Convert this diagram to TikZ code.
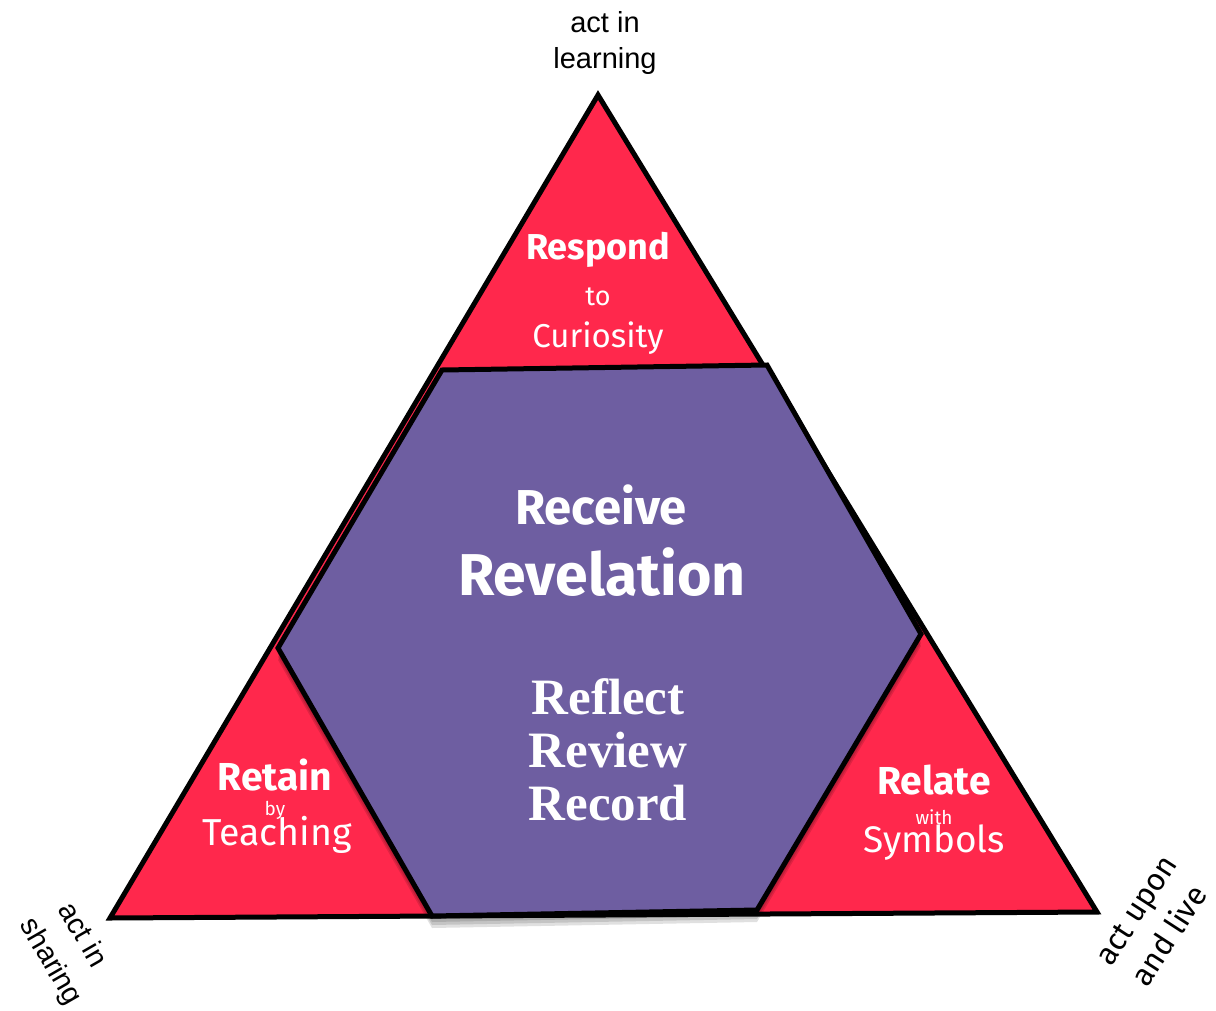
\documentclass[tikz,border=0pt]{standalone}
\usepackage{fontspec}
\setmainfont{Liberation Serif}
\setsansfont{Liberation Sans}
\newfontfamily\chalk{Fira Sans}
\definecolor{tri}{RGB}{255,40,76}
\definecolor{hexc}{RGB}{110,94,161}
\tikzset{
  outl/.style={draw=black,line width=5pt,line join=miter},
  shad/.style={fill=black,fill opacity=0.12},
  wlab/.style={text=white,align=center,inner sep=0pt,font=\chalk},
  blab/.style={text=black,align=center,inner sep=0pt},
}
\begin{document}
\begin{tikzpicture}[x=1pt,y=-1pt]
\useasboundingbox[fill=white] (0,0) rectangle (1216,1010);
% big triangle
\draw[outl,fill=tri] (598,95) -- (1097,912) -- (110,918) -- cycle;
% shadow of hexagon
\foreach \d in {3,6,9,12}{
  \fill[shad,shift={(0,\d)}] (442,370) -- (767,365) -- (921,634) -- (757,910) -- (432,916) -- (278,648) -- cycle;
}
% hexagon
\draw[outl,fill=hexc] (442,370) -- (767,365) -- (921,634) -- (757,910) -- (432,916) -- (278,648) -- cycle;
% outer labels
\node[blab,font=\sffamily\fontsize{29}{36}\selectfont] (top) at (605,43) {act in\\learning};
\node[blab,font=\sffamily\fontsize{29}{29}\selectfont,rotate=-60] (bl1) at (84,934) {act in};
\node[blab,font=\sffamily\fontsize{29}{29}\selectfont,rotate=-60] (bl2) at (50,962) {sharing};
\node[blab,font=\chalk\fontsize{31}{31}\selectfont,rotate=57] (br1) at (1139,912) {act upon};
\node[blab,font=\chalk\fontsize{31}{31}\selectfont,rotate=57] (br2) at (1168,935) {and live};
% top triangle
\node[wlab,font=\chalk\bfseries\fontsize{36}{36}\selectfont] (resp) at (598,250) {Respond};
\node[wlab,font=\chalk\fontsize{27}{27}\selectfont] (to) at (598,297) {to};
\node[wlab,font=\chalk\fontsize{33}{33}\selectfont] (cur) at (598,338) {Curiosity};
% hexagon
\node[wlab,font=\chalk\bfseries\fontsize{49}{49}\selectfont] (rec) at (601,505) {Receive};
\node[wlab,font=\chalk\bfseries\fontsize{59}{59}\selectfont] (rev) at (602,572) {Revelation};
\node[wlab,font=\rmfamily\bfseries\fontsize{51}{53}\selectfont] (rrr) at (608,750) {Reflect\\Review\\Record};
% bottom-left
\node[wlab,font=\chalk\bfseries\fontsize{39}{39}\selectfont] (ret) at (275,775) {Retain};
\node[wlab,font=\chalk\fontsize{19}{19}\selectfont] (by) at (275,810) {by};
\node[wlab,font=\chalk\fontsize{37.5}{37.5}\selectfont] (teach) at (277,835) {Teaching};
% bottom-right
\node[wlab,font=\chalk\bfseries\fontsize{39}{39}\selectfont] (rel) at (934,780) {Relate};
\node[wlab,font=\chalk\fontsize{19}{19}\selectfont] (with) at (934,817) {with};
\node[wlab,font=\chalk\fontsize{37}{37}\selectfont] (sym) at (934,843) {Symbols};
\end{tikzpicture}
\end{document}
